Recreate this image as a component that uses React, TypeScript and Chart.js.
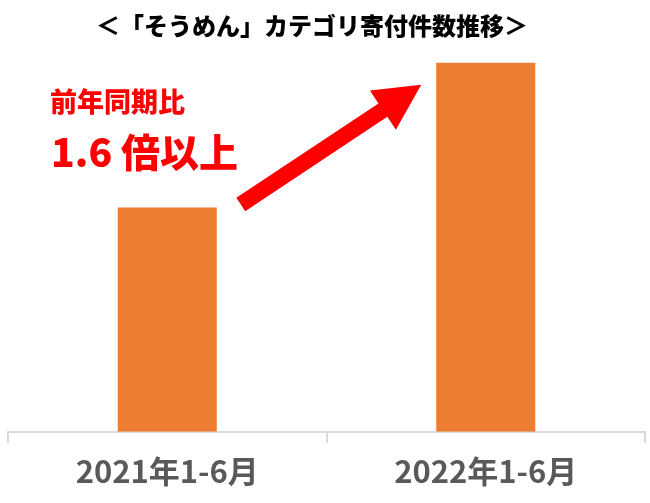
import React, { useEffect, useRef } from "react";
import { Chart, registerables } from "chart.js";

Chart.register(...registerables);

const categories = ["2021年1-6月", "2022年1-6月"];
const donations = [1000, 1645];
const yMax = 1800;
const titleText = "＜「そうめん」カテゴリ寄付件数推移＞";
const noteLine1 = "前年同期比";
const noteLine2 = "1.6 倍以上";

const FONT = '"Noto Sans CJK JP", "Noto Sans", sans-serif';

const annotationPlugin = {
  id: "annotations",
  afterDraw(chart: any) {
    const ctx = chart.ctx;
    const meta = chart.getDatasetMeta(0);
    const b1 = meta.data[0];
    const b2 = meta.data[1];
    ctx.save();
    // title
    ctx.fillStyle = "#000000";
    ctx.font = `900 24px ${FONT}`;
    ctx.textAlign = "center";
    ctx.textBaseline = "middle";
    ctx.fillText(titleText, 312, 26);

    // red notes
    ctx.fillStyle = "#FF0000";
    ctx.textAlign = "left";
    ctx.font = `900 27px ${FONT}`;
    ctx.fillText(noteLine1, 50, 102);
    ctx.font = `900 39px ${FONT}`;
    ctx.fillText(noteLine2, 51, 152);

    // arrow from bar1 to bar2
    const x0 = b1.x + b1.width / 2 + 24;
    const y0 = b1.y - 3;
    const x1 = b2.x - b2.width / 2 - 15;
    const y1 = b2.y + 22;
    const ang = Math.atan2(y1 - y0, x1 - x0);
    const len = Math.hypot(x1 - x0, y1 - y0);
    const shaft = 16;
    const headLen = 46;
    const headW = 47;
    ctx.translate(x0, y0);
    ctx.rotate(ang);
    ctx.beginPath();
    ctx.moveTo(0, -shaft / 2);
    ctx.lineTo(len - headLen, -shaft / 2);
    ctx.lineTo(len - headLen, -headW / 2);
    ctx.lineTo(len, 0);
    ctx.lineTo(len - headLen, headW / 2);
    ctx.lineTo(len - headLen, shaft / 2);
    ctx.lineTo(0, shaft / 2);
    ctx.closePath();
    ctx.fill();
    ctx.restore();
  },
};

export default function App() {
  const ref = useRef<HTMLCanvasElement>(null);
  useEffect(() => {
    if (!ref.current) return;
    const chart = new Chart(ref.current, {
      type: "bar",
      data: {
        labels: categories,
        datasets: [
          {
            data: donations,
            backgroundColor: "#ED7D31",
            borderWidth: 0,
            barPercentage: 0.311,
            categoryPercentage: 1,
          },
        ],
      },
      options: {
        responsive: false,
        animation: false,
        layout: { padding: { left: 8, right: 5, top: 28, bottom: 3 } },
        plugins: {
          legend: { display: false },
          tooltip: { enabled: false },
          title: { display: false },
        },
        scales: {
          x: {
            grid: {
              drawOnChartArea: false,
              drawTicks: true,
              tickLength: 11,
              color: "#D9D9D9",
              lineWidth: 2,
            },
            border: { display: true, color: "#D9D9D9", width: 2 },
            ticks: {
              color: "#595959",
              padding: 10,
              font: { family: FONT, size: 31, weight: "bold" },
            },
          },
          y: {
            display: false,
            min: 0,
            max: yMax,
          },
        },
      },
      plugins: [annotationPlugin],
    });
    return () => chart.destroy();
  }, []);
  return (
    <div style={{ position: "fixed", left: 0, top: 0, width: 650, height: 503, background: "#fff" }}>
      <canvas ref={ref} width={650} height={503} />
    </div>
  );
}
